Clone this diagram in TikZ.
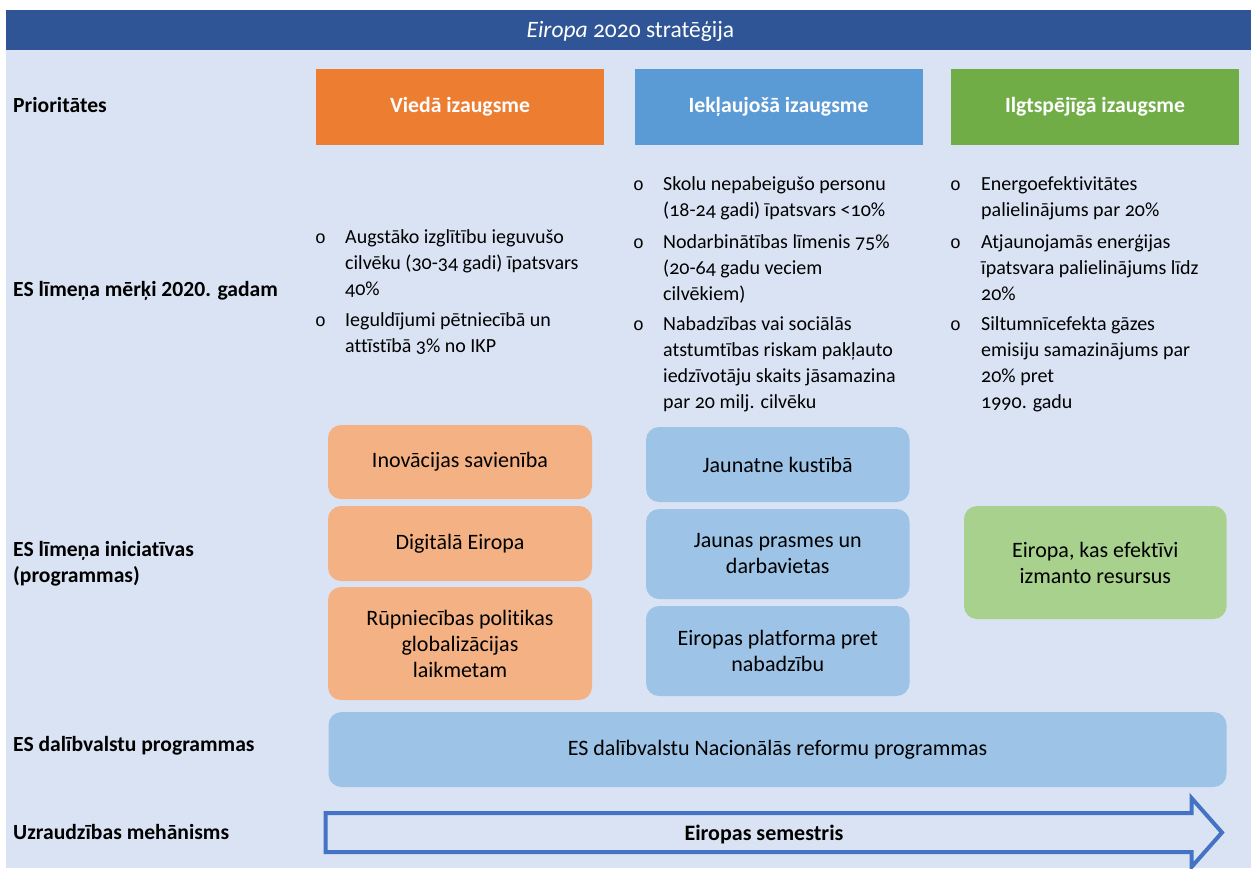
\documentclass[tikz,border=0pt]{standalone}
\usepackage{fontspec}
\setmainfont{Carlito}[Ligatures=NoCommon]
\newfontfamily\goalfont[Numbers=OldStyle,Ligatures=NoCommon]{Carlito}
\newfontfamily\bulfont{Liberation Mono}
\definecolor{bgblue}{HTML}{DAE3F3}
\definecolor{titleblue}{HTML}{2F5597}
\definecolor{prioorange}{HTML}{ED7D31}
\definecolor{prioblue}{HTML}{5B9BD5}
\definecolor{priogreen}{HTML}{70AD47}
\definecolor{lorange}{HTML}{F4B183}
\definecolor{lblue}{HTML}{9DC3E6}
\definecolor{lgreen}{HTML}{A9D18E}
\definecolor{arrowblue}{HTML}{4472C4}
\newcommand{\gtext}[1]{\parbox[t]{320pt}{\raggedright #1}}
\tikzset{
  rowlabel/.style={anchor=base west, inner sep=0pt, font=\fontsize{21.6}{26}\selectfont\bfseries},
  prio/.style={inner sep=0pt, minimum width=288, minimum height=76, text=white, font=\fontsize{21.7}{26}\selectfont\bfseries},
  initbox/.style={rounded corners=13, inner sep=0pt, align=center, font=\fontsize{22}{26}\selectfont},
  bul/.style={anchor=base west, inner sep=0pt, font=\bulfont\fontsize{18}{20}\selectfont},
  goal/.style={anchor=base west, inner sep=0pt, font=\goalfont\fontsize{20}{26}\selectfont},
  arrowline/.style={draw=arrowblue, line width=4pt, line join=miter},
}
\begin{document}
\begin{tikzpicture}[x=1pt,y=-1pt]
\useasboundingbox (0,0) rectangle (1251,868);
\fill[white] (0,0) rectangle (1251,868);
\fill[bgblue] (6,10) rectangle (1251,868);
\fill[titleblue] (6,10) rectangle (1251,50);
\node[anchor=base, inner sep=0pt, text=white, font=\goalfont\fontsize{23.5}{26}\selectfont] (title) at (630.4,37) {\textit{Eiropa} 2020 stratēģija};

% row labels
\node[rowlabel] (l1) at (13,112.7) {Prioritātes};
\node[rowlabel] (l2) at (13,296.5) {ES līmeņa mērķi 2020. gadam};
\node[rowlabel] (l3) at (13,556.7) {\parbox[t]{260pt}{ES līmeņa iniciatīvas\\(programmas)}};
\node[rowlabel] (l4) at (13,751.5) {ES dalībvalstu programmas};
\node[rowlabel] (l5) at (13,839) {Uzraudzības mehānisms};

% priorities
\node[prio, fill=prioorange] (p1) at (460,107) {Viedā izaugsme};
\node[prio, fill=prioblue] (p2) at (778.5,107) {Iekļaujošā izaugsme};
\node[prio, fill=priogreen] (p3) at (1095,107) {Ilgtspējīgā izaugsme};

% goals column 1
\node[bul] (b11) at (315,243.3) {o};
\node[goal] (g11) at (345,243.3) {\gtext{Augstāko izglītību ieguvušo\\cilvēku (30-34 gadi) īpatsvars\\40\%}};
\node[bul] (b12) at (315,326.7) {o};
\node[goal] (g12) at (345,326.7) {\gtext{Ieguldījumi pētniecībā un\\attīstībā 3\% no IKP}};

% goals column 2
\node[bul] (b21) at (633,190.7) {o};
\node[goal] (g21) at (663,190.7) {\gtext{Skolu nepabeigušo personu\\(18-24 gadi) īpatsvars <10\%}};
\node[bul] (b22) at (633,248.3) {o};
\node[goal] (g22) at (663,248.3) {\gtext{Nodarbinātības līmenis 75\%\\(20-64 gadu veciem\\cilvēkiem)}};
\node[bul] (b23) at (633,330.7) {o};
\node[goal] (g23) at (663,330.7) {\gtext{Nabadzības vai sociālās\\atstumtības riskam pakļauto\\iedzīvotāju skaits jāsamazina\\par 20 milj. cilvēku}};

% goals column 3
\node[bul] (b31) at (950,190.7) {o};
\node[goal] (g31) at (981,190.7) {\gtext{Energoefektivitātes\\palielinājums par 20\%}};
\node[bul] (b32) at (950,248.3) {o};
\node[goal] (g32) at (981,248.3) {\gtext{Atjaunojamās enerģijas\\īpatsvara palielinājums līdz\\20\%}};
\node[bul] (b33) at (950,330.7) {o};
\node[goal] (g33) at (981,330.7) {\gtext{Siltumnīcefekta gāzes\\emisiju samazinājums par\\20\% pret\\1990. gadu}};

% initiatives
\node[initbox, fill=lorange, minimum width=264, minimum height=74] (o1) at (460,462) {Inovācijas savienība};
\node[initbox, fill=lorange, minimum width=264, minimum height=75] (o2) at (460,543.5) {Digitālā Eiropa};
\node[initbox, fill=lorange, minimum width=264, minimum height=113] (o3) at (460,643.5) {Rūpniecības politikas\\globalizācijas\\laikmetam};
\node[initbox, fill=lblue, minimum width=263.5, minimum height=75] (i1) at (777.75,464.5) {Jaunatne kustībā};
\node[initbox, fill=lblue, minimum width=263.5, minimum height=90] (i2) at (777.75,554) {Jaunas prasmes un\\darbavietas};
\node[initbox, fill=lblue, minimum width=263.5, minimum height=90] (i3) at (777.75,651) {Eiropas platforma pret\\nabadzību};
\node[initbox, fill=lgreen, minimum width=262.6, minimum height=113] (s1) at (1095.3,562.5) {Eiropa, kas efektīvi\\izmanto resursus};

% national programmes
\node[initbox, fill=lblue, minimum width=898, minimum height=75] (nat) at (777.5,749.5) {ES dalībvalstu Nacionālās reformu programmas};

% monitoring arrow
\draw[arrowline] (325.5,813) -- (1191.5,813) -- (1191.5,798) -- (1222,832.5) -- (1191.5,867) -- (1191.5,852) -- (325.5,852) -- cycle;
\node[anchor=base, inner sep=0pt, font=\fontsize{22}{26}\selectfont\bfseries] (sem) at (764,840) {Eiropas semestris};
\end{tikzpicture}
\end{document}
